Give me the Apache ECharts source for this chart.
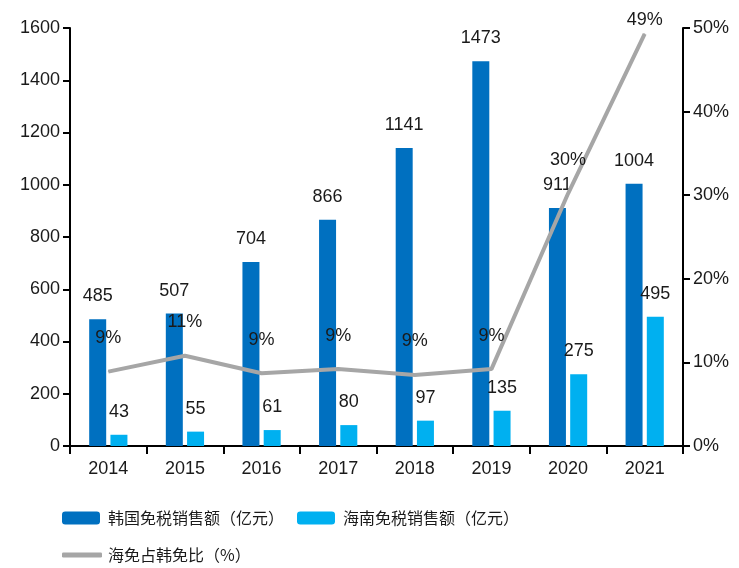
<!DOCTYPE html>
<html><head><meta charset="utf-8">
<script src="https://cdn.jsdelivr.net/npm/echarts@6/dist/echarts.min.js"></script>
<style>html,body{margin:0;padding:0;background:#fff}#c{width:739px;height:568px}</style>
</head><body><div id="c"></div>
<script>
const years = ['2014','2015','2016','2017','2018','2019','2020','2021'];
const korea = [485, 507, 704, 866, 1141, 1473, 911, 1004];
const hainan = [43, 55, 61, 80, 97, 135, 275, 495];
const ratio = [8.9, 10.8, 8.7, 9.2, 8.5, 9.2, 30.2, 49.3];
const leftTicks = [0, 200, 400, 600, 800, 1000, 1200, 1400, 1600];
const rightTicks = [0, 10, 20, 30, 40, 50];

const F = 'Liberation Sans, Arial, sans-serif';
const CJK = 'Noto Sans CJK SC, sans-serif';
const TXT = '#1a1a1a';
const chart = echarts.init(document.getElementById('c'));
chart.setOption({
  animation: false,
  backgroundColor: '#fff',
  grid: {left: 70, right: 56, top: 28, bottom: 122},
  legend: [
    {left: 57, top: 505, itemWidth: 38, itemHeight: 13, itemGap: 13,
     textStyle: {fontFamily: CJK, fontSize: 16, color: TXT, padding: [0, 0, 0, 3]},
     data: ['韩国免税销售额（亿元）', '海南免税销售额（亿元）']},
    {left: 57, top: 542, itemWidth: 40, itemHeight: 5,
     textStyle: {fontFamily: CJK, fontSize: 16, color: TXT, padding: [0, 0, 0, 1]},
     data: [{name: '海免占韩免比（%）', icon: 'roundRect'}]}
  ],
  xAxis: {
    type: 'category', data: years,
    axisLine: {lineStyle: {color: '#000', width: 2}},
    axisTick: {show: true, length: 8, lineStyle: {color: '#000', width: 2}},
    axisLabel: {fontFamily: F, fontSize: 18, color: TXT, margin: 14}
  },
  yAxis: [
    {type: 'value', min: leftTicks[0], max: leftTicks[leftTicks.length-1], interval: 200,
     splitLine: {show: false},
     axisLine: {show: true, lineStyle: {color: '#000', width: 2}},
     axisTick: {show: true, length: 7, lineStyle: {color: '#000', width: 2}},
     axisLabel: {fontFamily: F, fontSize: 18, color: TXT, margin: 10, formatter: v => String(v)}},
    {type: 'value', min: rightTicks[0], max: rightTicks[rightTicks.length-1], interval: 10,
     splitLine: {show: false},
     axisLine: {show: true, lineStyle: {color: '#000', width: 2}},
     axisTick: {show: true, length: 7, lineStyle: {color: '#000', width: 2}},
     axisLabel: {fontFamily: F, fontSize: 18, color: TXT, margin: 10, formatter: '{value}%'}}
  ],
  series: [
    {name: '韩国免税销售额（亿元）', type: 'bar', data: korea, barWidth: 17, barGap: '25%',
     itemStyle: {color: '#0070C0'},
     label: {show: true, position: 'top', distance: 14, fontFamily: F, fontSize: 18, color: TXT}},
    {name: '海南免税销售额（亿元）', type: 'bar', data: hainan, barWidth: 17,
     itemStyle: {color: '#00B0F0'},
     label: {show: true, position: 'top', distance: 14, fontFamily: F, fontSize: 18, color: TXT}},
    {name: '海免占韩免比（%）', type: 'line', yAxisIndex: 1,
     data: ratio.map((v, i) => i === ratio.length - 1
        ? {value: v, label: {distance: 4}} : v),
     symbol: 'circle', symbolSize: 1, showSymbol: true, z: 5,
     itemStyle: {color: '#A6A6A6'},
     lineStyle: {color: '#A6A6A6', width: 4},
     label: {show: true, position: 'top', distance: 24, fontFamily: F, fontSize: 18, color: TXT,
       formatter: p => Math.round(p.value) + '%'}}
  ]
});
</script></body></html>
